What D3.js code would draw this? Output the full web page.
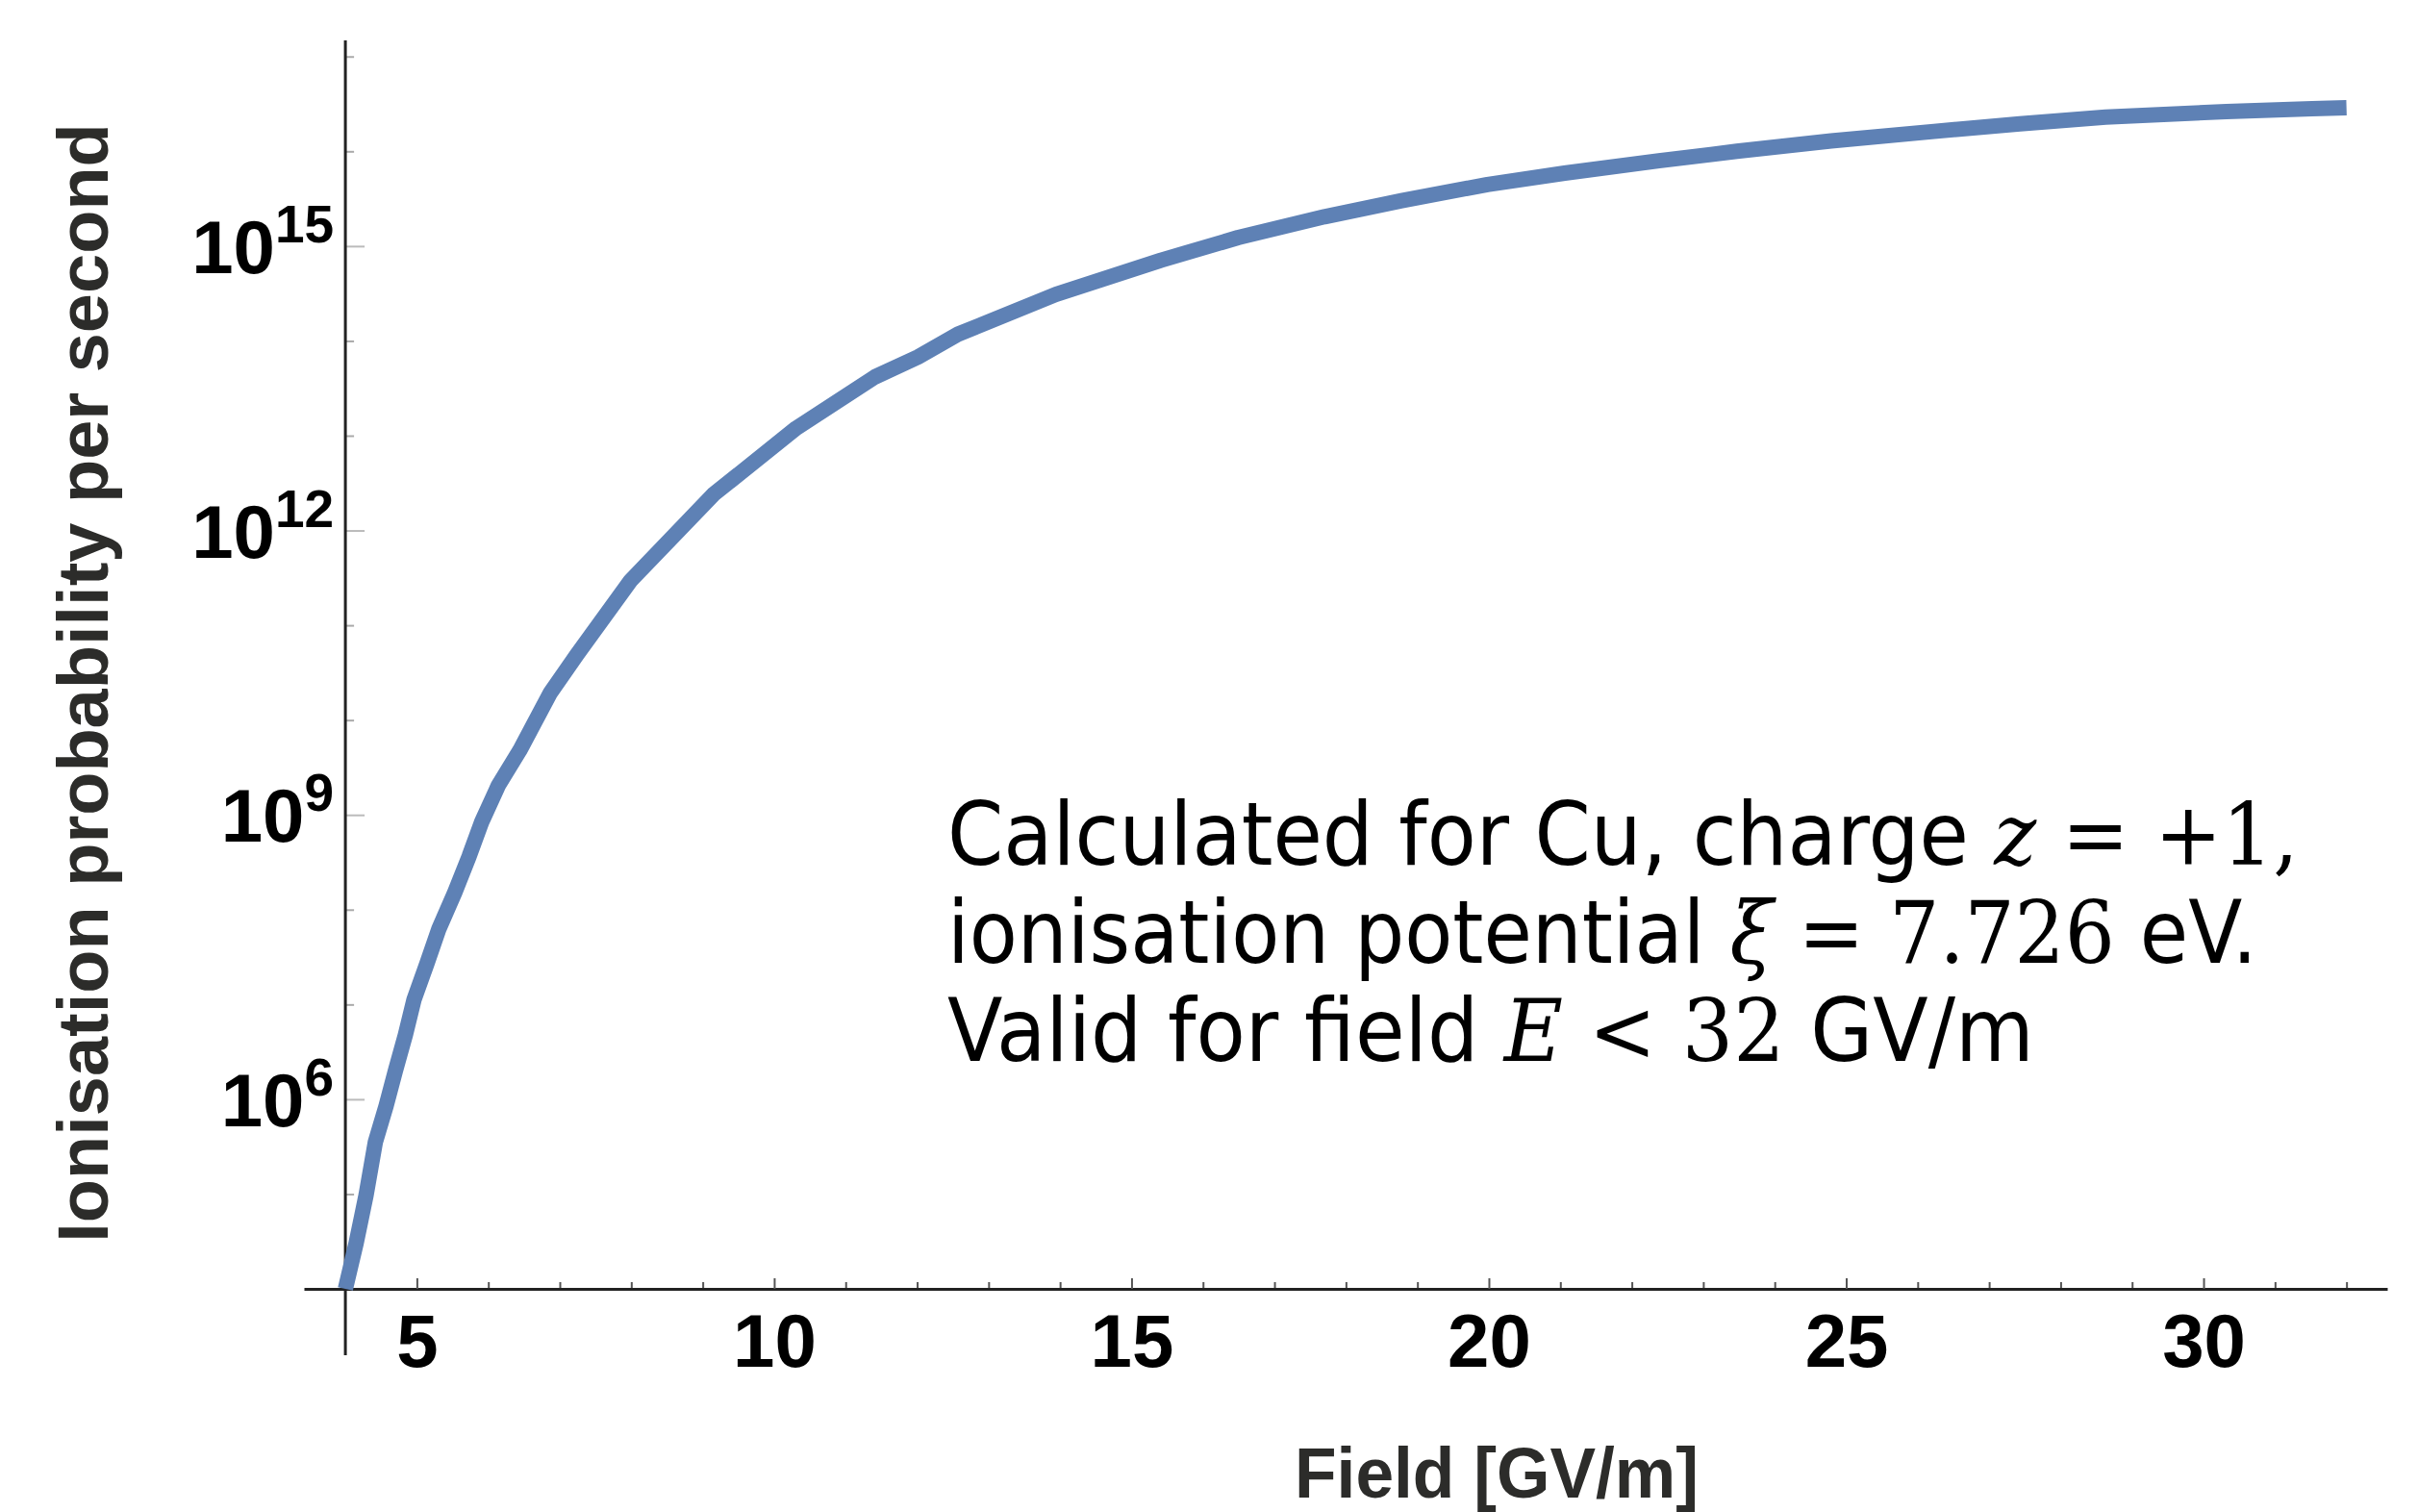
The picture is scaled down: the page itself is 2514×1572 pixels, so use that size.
<!DOCTYPE html>
<html>
<head>
<meta charset="utf-8">
<script src="https://cdn.jsdelivr.net/npm/d3@7"></script>
<style>
  body { margin: 0; background: #fff; }
  svg { display: block; }
</style>
</head>
<body>
<div id="chart"></div>
<script>
const width = 2514;
const height = 1572;

// field strength [GV/m] and log10 of the ionisation rate
const field = [4.00, 4.15, 4.29, 4.42, 4.57, 4.70, 4.84, 4.96, 5.14, 5.31,
  5.53, 5.73, 5.91, 6.14, 6.44, 6.87, 7.24, 7.99, 9.15, 10.31,
  11.41, 12.01, 12.57, 13.94, 15.41, 16.49, 17.70, 18.78, 19.98, 21.06,
  22.38, 23.47, 24.79, 26.23, 27.43, 28.63, 30.32, 31.52, 32.00];
const logRate = [4.00, 4.48, 4.99, 5.55, 5.93, 6.30, 6.68, 7.05, 7.43, 7.80,
  8.18, 8.56, 8.93, 9.31, 9.68, 10.29, 10.69, 11.47, 12.38, 13.08,
  13.62, 13.83, 14.07, 14.49, 14.85, 15.09, 15.31, 15.48, 15.65, 15.77,
  15.90, 16.00, 16.11, 16.21, 16.29, 16.36, 16.42, 16.45, 16.46];

const xMajor = [5, 10, 15, 20, 25, 30];
const xMinor = [6, 7, 8, 9, 11, 12, 13, 14, 16, 17, 18, 19, 21, 22, 23, 24,
  26, 27, 28, 29, 31, 32];
const yMajorExp = [6, 9, 12, 15];
const yMinorExp = [5, 7, 8, 10, 11, 13, 14, 16, 17];

const data = field.map((f, i) => ({ x: f, y: Math.pow(10, logRate[i]) }));

const svg = d3.select("#chart").append("svg")
  .attr("width", width)
  .attr("height", height);

svg.append("rect").attr("width", width).attr("height", height).attr("fill", "#fff");

const xScale = d3.scaleLinear().domain([3.42, 32.57]).range([316, 2482]);
const yScale = d3.scaleLog().domain([1e4, Math.pow(10, 17.17)]).range([1340, 42]);
const originX = xScale(4);
const baseY = yScale(1e4);

const tickFont = "'Liberation Sans', Arial, sans-serif";

// x axis: minor ticks, then majors with labels
const xMinorAxis = svg.append("g")
  .attr("transform", `translate(0,${baseY})`)
  .call(d3.axisBottom(xScale).tickValues(xMinor).tickSize(-7).tickSizeOuter(0).tickFormat(""));
xMinorAxis.select(".domain").remove();
xMinorAxis.selectAll(".tick line").attr("stroke", "#555").attr("stroke-width", 2);

const xAxis = svg.append("g")
  .attr("transform", `translate(0,${baseY})`)
  .call(d3.axisBottom(xScale).tickValues(xMajor).tickSize(-11).tickSizeOuter(0).tickPadding(26));
xAxis.select(".domain").attr("stroke", "#222").attr("stroke-width", 3);
xAxis.selectAll(".tick line").attr("stroke", "#555").attr("stroke-width", 2);
xAxis.selectAll(".tick text")
  .attr("fill", "#000")
  .style("font-family", tickFont)
  .style("font-weight", "bold")
  .style("font-size", "78px");

// y axis ticks (pointing into the plot)
const yMinorAxis = svg.append("g")
  .attr("transform", `translate(${originX},0)`)
  .call(d3.axisLeft(yScale).tickValues(yMinorExp.map((e) => Math.pow(10, e)))
    .tickSize(-9).tickSizeOuter(0).tickFormat(""));
yMinorAxis.select(".domain").remove();
yMinorAxis.selectAll(".tick line").attr("stroke", "#aaa").attr("stroke-width", 2);

const yMajorAxis = svg.append("g")
  .attr("transform", `translate(${originX},0)`)
  .call(d3.axisLeft(yScale).tickValues(yMajorExp.map((e) => Math.pow(10, e)))
    .tickSize(-20).tickSizeOuter(0).tickFormat(""));
yMajorAxis.select(".domain").remove();
yMajorAxis.selectAll(".tick line").attr("stroke", "#bbb").attr("stroke-width", 2);

// y axis line, running a bit below the x axis
svg.append("line")
  .attr("x1", originX).attr("x2", originX)
  .attr("y1", yScale.range()[1]).attr("y2", baseY + 69)
  .attr("stroke", "#222").attr("stroke-width", 3);

// y labels as 10 with superscript exponent
const yLabels = svg.append("g")
  .selectAll("text")
  .data(yMajorExp)
  .enter()
  .append("text")
  .attr("x", originX - 12)
  .attr("y", (e) => yScale(Math.pow(10, e)) + 28)
  .attr("text-anchor", "end")
  .attr("fill", "#000")
  .style("font-family", tickFont)
  .style("font-weight", "bold");
yLabels.append("tspan").style("font-size", "78px").text("10");
yLabels.append("tspan").attr("dy", -32).style("font-size", "55px").text((e) => e);

// the curve
svg.append("path")
  .datum(data)
  .attr("fill", "none")
  .attr("stroke", "#5e81b5")
  .attr("stroke-width", 16)
  .attr("stroke-linejoin", "round")
  .attr("d", d3.line().x((d) => xScale(d.x)).y((d) => yScale(d.y)));

// axis titles
svg.append("text")
  .attr("transform", "translate(112,710) rotate(-90)")
  .attr("text-anchor", "middle")
  .attr("fill", "#2c2c2a")
  .style("font-family", tickFont)
  .style("font-weight", "bold")
  .style("font-size", "74px")
  .text("Ionisation probability per second");

const xTitle = svg.append("text")
  .attr("x", 1556)
  .attr("y", 1557)
  .attr("text-anchor", "middle")
  .attr("fill", "#2c2c2a")
  .style("font-family", tickFont)
  .style("font-weight", "bold")
  .style("font-size", "75px")
  .text("Field [GV/m]");
xTitle.attr("textLength", 420).attr("lengthAdjust", "spacingAndGlyphs");

// annotation
const note = [
  [["Calculated for Cu, charge ", "t"], ["z", "i"], [" = +1,", "m"]],
  [["ionisation potential ", "t"], ["ξ", "i"], [" = 7.726", "m"], [" eV.", "t"]],
  [["Valid for field ", "t"], ["E", "i"], [" < 32", "m"], [" GV/m", "t"]],
];
const noteWidths = [1405, 1362, 1130];
const noteBase = [899, 1001, 1103];

note.forEach((parts, i) => {
  const t = svg.append("text")
    .attr("fill", "#000")
    .style("font-size", "90px")
    .attr("xml:space", "preserve");
  parts.forEach(([s, kind]) => {
    const sp = t.append("tspan").text(s);
    if (kind === "t") sp.style("font-family", "'DejaVu Sans', Verdana, sans-serif");
    else sp.style("font-family", "'DejaVu Serif', serif");
    if (kind === "i") sp.style("font-style", "italic");
  });
  const w = t.node().getBBox().width;
  t.attr("transform", `translate(985,${noteBase[i]}) scale(${noteWidths[i] / w},1)`);
});
</script>
</body>
</html>
